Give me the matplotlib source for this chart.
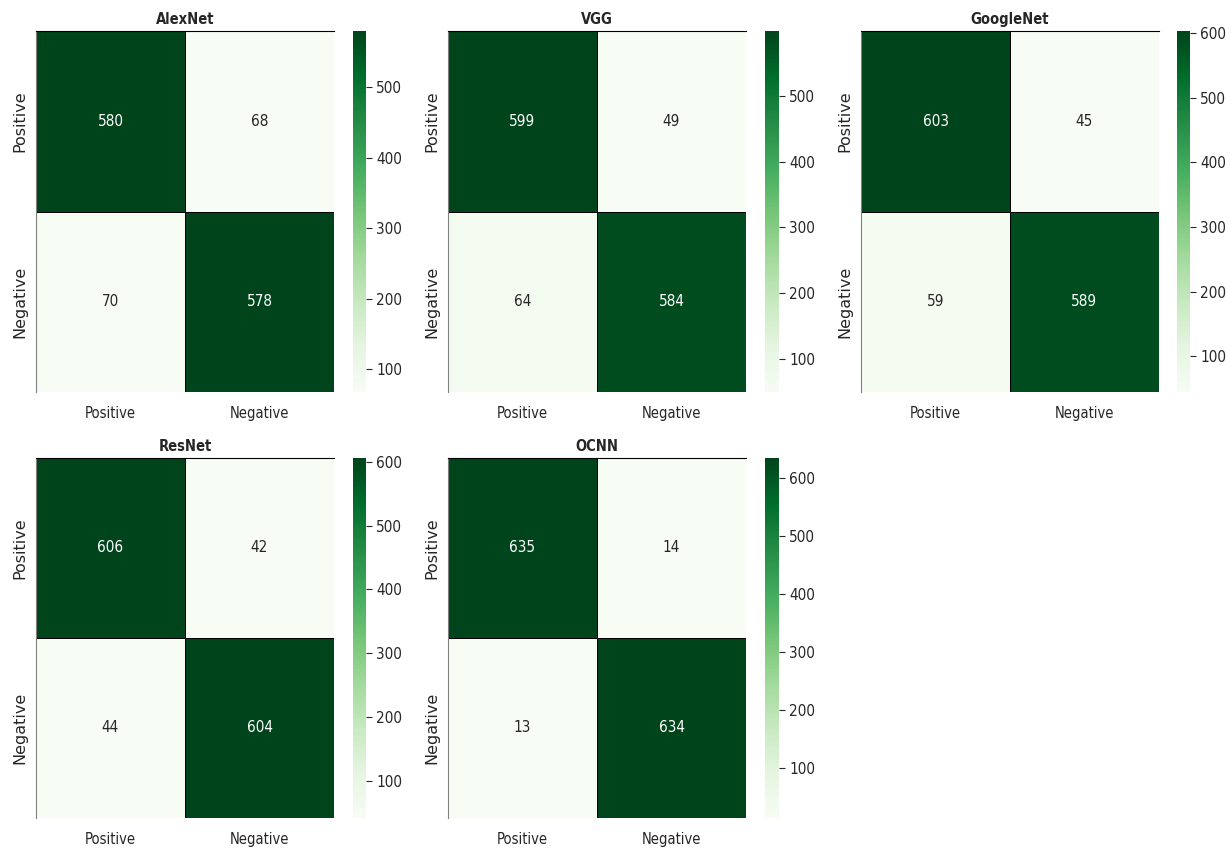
import numpy as np
import matplotlib
matplotlib.use("Agg")
import matplotlib.pyplot as plt
import seaborn as sns

plt.rcParams['font.family'] = ['DejaVu Sans']
plt.rcParams['font.stretch'] = 'condensed'

labels = ["Positive", "Negative"]
models = ["AlexNet", "VGG", "GoogleNet", "ResNet", "OCNN"]
alexnet = [[580, 68], [70, 578]]
vgg = [[599, 49], [64, 584]]
googlenet = [[603, 45], [59, 589]]
resnet = [[606, 42], [44, 604]]
ocnn = [[635, 14], [13, 634]]
matrices = [alexnet, vgg, googlenet, resnet, ocnn]

W, H = 1231, 848
fig = plt.figure(figsize=(W / 100, H / 100), dpi=100)

# pixel layout of each panel: (heatmap left, right, colorbar left, right) / (top, bottom)
col_x = [(36, 334, 353, 366), (448, 746, 765, 779), (861, 1159, 1177, 1190)]
row_y = [(31, 392), (458, 818)]

text_color = '0.15'
for i, (name, mat) in enumerate(zip(models, matrices)):
    r, c = divmod(i, 3)
    x0, x1, cx0, cx1 = col_x[c]
    y0, y1 = row_y[r]
    ax = fig.add_axes([x0 / W, 1 - y1 / H, (x1 - x0) / W, (y1 - y0) / H])
    cax = fig.add_axes([cx0 / W, 1 - y1 / H, (cx1 - cx0) / W, (y1 - y0) / H])
    data = np.array(mat)
    sns.heatmap(data, ax=ax, cbar_ax=cax, cmap="Greens", annot=True, fmt="d",
                annot_kws={"fontsize": 11},
                linewidths=0.6, linecolor="black",
                xticklabels=labels, yticklabels=labels)
    ax.set_title(name, fontsize=10.5, fontweight='bold', color=text_color, pad=5)
    ax.tick_params(axis='x', length=0, labelsize=10.5, colors=text_color, pad=10)
    ax.tick_params(axis='y', length=0, colors=text_color, pad=6)
    for lab in ax.get_yticklabels():
        lab.set_rotation(90)
        lab.set_va('center')
        lab.set_fontstretch('normal')
        lab.set_fontsize(11.5)
    for side in ('top', 'left'):
        ax.spines[side].set_visible(True)
        ax.spines[side].set_linewidth(0.8)
    ax.spines['top'].set_color('black')
    ax.spines['left'].set_color('0.5')
    cax.tick_params(labelsize=11, colors=text_color, length=4, width=0.8)
    for lab in cax.get_yticklabels():
        lab.set_color(text_color)

fig.savefig("out.png", dpi=100, facecolor="white")
